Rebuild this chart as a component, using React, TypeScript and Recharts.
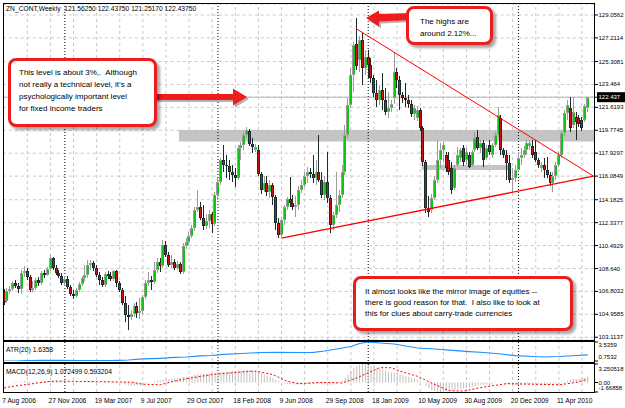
import React from 'react';
import { ComposedChart, Bar, Line, XAxis, YAxis, CartesianGrid, ReferenceLine, ReferenceArea } from 'recharts';

const FONT = '"Liberation Sans", Arial, sans-serif';

// ---------- data ----------
const dateTickIdx = [0, 16, 32, 48, 64, 80, 96, 112, 128, 144, 160, 176, 192];
const dateLabels = ['7 Aug 2006', '27 Nov 2006', '19 Mar 2007', '9 Jul 2007', '29 Oct 2007', '18 Feb 2008', '9 Jun 2008', '29 Sep 2008', '18 Jan 2009', '10 May 2009', '30 Aug 2009', '20 Dec 2009', '11 Apr 2010'];
const gridIdx = [8, 16, 24, 32, 40, 48, 56, 64, 72, 80, 88, 96, 104, 112, 120, 128, 136, 144, 152, 160, 168, 176, 184, 192, 200];
const yearSepIdx = [21, 74, 126, 178];

const priceTicks = [129.0562, 127.2114, 125.3081, 123.464, 121.6193, 119.7745, 117.9297, 116.0849, 114.1825, 112.3377, 110.4929, 108.64, 106.8032, 104.9585, 103.1137];
const priceTickLabels = ['129.0562', '127.2114', '125.3081', '123.464', '121.6193', '119.7745', '117.9297', '116.0849', '114.1825', '112.3377', '110.4929', '108.640', '106.8032', '104.9585', '103.1137'];
const lastPrice = 122.4375;
const lastPriceLabel = '122.437';

// weekly bars: [open, high, low, close]
const ohlc: number[][] = [
  [106.75, 106.99, 105.71, 105.95], [106.03, 107.07, 105.87, 106.83], [106.83, 107.24, 106.59, 106.99], [106.99, 107.64, 106.83, 107.48],
  [107.48, 107.72, 107.07, 107.24], [107.24, 107.48, 106.67, 106.99], [106.99, 108.52, 106.59, 108.28], [108.28, 108.85, 107.96, 108.44],
  [108.44, 108.68, 107.72, 107.96], [107.96, 108.12, 106.75, 106.91], [106.91, 107.64, 106.75, 107.07], [107.07, 107.88, 106.91, 107.72],
  [107.72, 107.96, 107.24, 107.48], [107.48, 108.44, 107.32, 108.28], [108.28, 108.52, 107.88, 108.12], [108.12, 108.76, 108.04, 108.60],
  [108.60, 109.73, 108.44, 109.49], [109.49, 109.57, 108.52, 108.68], [108.68, 108.93, 108.12, 108.28], [108.28, 108.52, 107.88, 108.04],
  [108.04, 108.28, 107.32, 107.48], [107.48, 108.04, 107.24, 107.80], [107.80, 108.04, 106.99, 107.15], [107.15, 107.32, 106.43, 106.59],
  [106.59, 106.91, 106.19, 106.43], [106.43, 107.07, 106.27, 106.91], [106.91, 107.56, 106.75, 107.40], [107.40, 108.04, 107.24, 107.88],
  [107.88, 108.93, 107.64, 108.12], [108.12, 109.33, 107.88, 108.93], [108.93, 109.33, 108.52, 109.09], [109.09, 109.25, 108.44, 108.68],
  [108.68, 108.93, 107.96, 108.12], [108.12, 108.36, 107.32, 107.72], [107.72, 107.96, 107.15, 107.32], [107.32, 108.36, 107.15, 108.20],
  [108.20, 108.44, 107.80, 108.04], [108.04, 108.36, 107.64, 107.80], [107.80, 108.52, 107.64, 108.44], [108.44, 108.52, 107.15, 107.48],
  [107.48, 107.64, 106.75, 106.91], [106.91, 107.07, 105.71, 105.87], [105.87, 106.43, 104.34, 104.90], [104.90, 105.71, 103.69, 104.74],
  [104.74, 105.30, 104.50, 104.98], [104.98, 105.87, 104.74, 105.62], [105.62, 105.95, 104.66, 105.06], [105.06, 106.27, 104.58, 105.22],
  [105.22, 106.51, 104.98, 106.35], [106.35, 107.72, 106.19, 107.48], [107.48, 108.36, 107.24, 107.72], [107.72, 108.04, 106.91, 107.56],
  [107.56, 109.17, 107.40, 108.52], [108.52, 109.49, 108.28, 109.17], [109.17, 109.49, 108.36, 108.85], [108.85, 110.94, 108.68, 110.54],
  [110.54, 110.86, 109.57, 109.73], [109.73, 109.97, 108.76, 108.93], [108.93, 109.73, 108.68, 109.17], [109.17, 109.41, 108.52, 108.68],
  [108.68, 109.25, 108.52, 109.01], [109.01, 109.17, 108.20, 108.36], [108.36, 110.70, 108.20, 110.45], [110.45, 111.10, 110.21, 110.78],
  [110.78, 111.58, 110.54, 111.26], [111.26, 112.15, 111.10, 111.91], [111.91, 113.60, 111.66, 113.35], [113.35, 114.96, 113.19, 113.60],
  [113.60, 114.00, 112.55, 112.71], [112.71, 113.76, 111.74, 112.07], [112.07, 113.03, 111.83, 112.47], [112.47, 113.35, 111.91, 113.03],
  [113.03, 113.19, 111.50, 112.23], [112.23, 114.80, 112.07, 114.56], [114.56, 115.93, 114.16, 115.61], [115.61, 117.54, 115.37, 117.38],
  [117.38, 118.59, 116.41, 116.98], [116.98, 117.78, 115.93, 116.90], [116.90, 117.38, 115.77, 116.41], [116.41, 116.98, 115.61, 116.17],
  [116.17, 116.74, 115.21, 115.93], [115.93, 118.59, 115.77, 118.35], [118.35, 118.83, 117.38, 118.59], [118.59, 119.64, 118.19, 119.39],
  [119.39, 120.04, 119.15, 119.80], [119.72, 119.88, 118.51, 118.67], [118.67, 119.15, 117.94, 118.43], [118.19, 118.67, 118.03, 118.43],
  [118.19, 118.59, 116.09, 116.25], [116.25, 116.41, 114.64, 114.96], [114.96, 116.09, 114.80, 115.53], [115.53, 116.09, 114.48, 114.80],
  [114.80, 115.77, 114.32, 115.37], [115.37, 115.53, 113.76, 114.40], [114.40, 114.56, 111.74, 112.31], [112.31, 112.71, 111.10, 111.34],
  [111.34, 112.79, 111.18, 112.55], [112.55, 113.76, 112.15, 113.60], [113.60, 114.40, 113.35, 114.24], [114.24, 116.01, 113.60, 113.92],
  [113.92, 114.56, 113.35, 113.60], [113.60, 114.48, 112.79, 113.76], [113.76, 115.29, 113.35, 114.96], [114.96, 115.77, 114.72, 115.37],
  [115.37, 116.41, 115.21, 116.09], [116.09, 116.82, 115.53, 116.41], [116.41, 116.74, 115.93, 116.25], [116.25, 117.78, 115.53, 115.93],
  [115.93, 117.38, 115.37, 116.41], [116.41, 119.39, 115.61, 115.77], [115.77, 116.41, 114.32, 114.56], [114.56, 116.09, 114.16, 115.61],
  [115.61, 118.03, 113.92, 114.32], [114.32, 114.56, 111.50, 112.15], [112.15, 113.19, 111.74, 112.95], [112.95, 116.41, 112.71, 113.76],
  [113.76, 114.96, 113.19, 114.56], [114.56, 116.98, 114.32, 116.41], [116.41, 120.20, 116.17, 119.39], [119.39, 122.37, 119.15, 121.81],
  [121.81, 124.79, 121.57, 124.22], [124.22, 126.88, 122.86, 126.64], [126.72, 128.81, 124.63, 124.95], [125.43, 127.37, 124.47, 127.04],
  [127.04, 127.61, 123.42, 124.79], [124.79, 126.24, 124.22, 125.67], [125.67, 126.24, 123.98, 125.03], [125.03, 125.59, 123.58, 123.98],
  [123.98, 124.22, 122.45, 122.78], [122.78, 123.82, 121.65, 122.21], [122.21, 123.42, 121.81, 123.02], [123.02, 124.39, 121.41, 122.21],
  [122.21, 123.18, 121.00, 121.25], [121.25, 122.86, 120.76, 121.57], [121.57, 122.21, 121.25, 121.89], [122.37, 126.08, 121.89, 124.47],
  [124.47, 124.79, 123.18, 123.82], [123.82, 124.14, 121.41, 122.61], [122.61, 122.86, 121.97, 122.37], [122.37, 123.58, 121.65, 122.21],
  [122.21, 122.61, 121.57, 121.89], [121.89, 122.21, 120.84, 121.08], [121.08, 121.81, 120.60, 121.57], [120.76, 121.73, 120.52, 121.41],
  [121.41, 121.57, 119.72, 119.96], [119.96, 120.12, 116.90, 117.22], [117.22, 117.38, 113.11, 113.51], [113.51, 114.48, 112.79, 113.19],
  [113.35, 114.64, 113.11, 114.32], [114.32, 116.09, 114.16, 115.77], [115.77, 118.99, 115.53, 117.38], [117.38, 118.75, 116.74, 118.19],
  [118.19, 118.83, 117.22, 118.59], [117.78, 118.03, 116.41, 116.74], [117.38, 118.03, 116.17, 116.41], [116.74, 117.22, 114.64, 114.96],
  [115.13, 116.98, 114.96, 116.74], [116.98, 118.43, 116.82, 117.78], [117.54, 118.35, 117.22, 118.19], [118.35, 118.59, 116.90, 117.22],
  [117.38, 118.35, 116.98, 118.03], [117.78, 118.03, 116.74, 116.82], [116.98, 118.19, 116.82, 118.03], [118.19, 119.64, 118.03, 119.15],
  [119.23, 119.80, 118.19, 118.35], [118.35, 118.99, 117.94, 118.75], [118.75, 118.99, 116.82, 117.38], [117.54, 118.59, 117.38, 118.35],
  [118.59, 118.99, 117.78, 118.03], [117.78, 118.75, 117.54, 118.59], [118.59, 119.64, 118.43, 119.39], [119.39, 121.65, 119.23, 121.00],
  [120.76, 121.00, 117.78, 118.19], [118.19, 118.35, 117.54, 117.78], [117.78, 118.19, 115.77, 117.14], [117.14, 117.78, 115.53, 115.77],
  [115.77, 116.74, 114.80, 115.93], [115.93, 116.98, 115.61, 116.58], [116.58, 118.03, 116.41, 117.54], [117.54, 118.35, 116.98, 117.78],
  [117.78, 118.51, 117.54, 118.19], [118.19, 118.99, 117.78, 118.75], [118.51, 118.99, 118.19, 118.75], [118.51, 118.99, 117.54, 117.78],
  [118.03, 118.99, 117.22, 117.38], [117.38, 117.54, 116.74, 116.98], [116.74, 117.22, 116.41, 116.98], [116.98, 117.54, 115.93, 116.58],
  [116.58, 117.62, 115.93, 116.17], [116.17, 116.41, 115.29, 115.53], [115.53, 116.41, 114.80, 116.09], [116.09, 117.22, 115.77, 116.98],
  [116.98, 118.03, 116.82, 117.78], [117.78, 119.80, 117.54, 119.55], [119.55, 121.41, 119.31, 121.17], [121.17, 122.21, 120.60, 121.81],
  [121.57, 122.45, 119.64, 119.96], [120.20, 122.45, 119.96, 121.25], [120.84, 121.25, 118.99, 120.44], [120.76, 121.00, 120.04, 120.28],
  [120.60, 120.84, 119.72, 119.96], [120.60, 121.89, 120.44, 121.73], [121.5625, 122.4375, 121.2517, 122.4375],
];

// MACD(12,26,9) main line, drawn as histogram
const macdHist = [
  0.05, 0.1, 0.0, 0.1, 0.15, 0.1, 0.2, 0.25, 0.25, 0.2,
  0.15, 0.2, 0.15, 0.2, 0.2, 0.25, 0.35, 0.3, 0.3, 0.25,
  0.2, 0.15, 0.05, -0.05, -0.15, -0.15, -0.1, 0.0, 0.05, 0.15,
  0.2, 0.2, 0.15, 0.1, 0.05, 0.1, 0.1, 0.1, 0.15, 0.1,
  0.0, -0.15, -0.35, -0.5, -0.6, -0.6, -0.55, -0.5, -0.35, -0.15,
  -0.05, 0.05, 0.2, 0.35, 0.4, 0.55, 0.6, 0.6, 0.65, 0.7,
  0.75, 0.8, 0.95, 1.05, 1.1, 1.2, 1.35, 1.45, 1.45, 1.5,
  1.5, 1.55, 1.6, 1.7, 1.8, 1.85, 1.9, 1.95, 1.95, 2.0,
  2.0, 2.05, 2.15, 2.2, 2.25, 2.2, 2.1, 2.0, 1.85, 1.65,
  1.45, 1.25, 1.05, 0.8, 0.5, 0.25, 0.0, -0.15, -0.25, -0.3,
  -0.35, -0.4, -0.4, -0.35, -0.35, -0.3, -0.3, -0.25, -0.25, -0.3,
  -0.3, -0.35, -0.35, -0.4, -0.3, -0.2, 0.0, 0.3, 0.8, 1.4,
  2.0, 2.5, 2.9, 3.15, 3.25, 3.2, 3.05, 2.9, 2.75, 2.6,
  2.4, 2.25, 2.1, 1.9, 1.75, 1.7, 1.6, 1.45, 1.3, 1.15,
  1.0, 0.85, 0.7, 0.5, 0.25, -0.1, -0.6, -1.0, -1.3, -1.5,
  -1.6, -1.65, -1.6, -1.55, -1.45, -1.4, -1.35, -1.25, -1.15, -1.05,
  -0.95, -0.85, -0.7, -0.6, -0.5, -0.45, -0.4, -0.35, -0.3, -0.2,
  -0.1, 0.0, -0.05, -0.1, -0.2, -0.3, -0.4, -0.45, -0.45, -0.4,
  -0.35, -0.3, -0.25, -0.25, -0.25, -0.3, -0.35, -0.4, -0.4, -0.45,
  -0.45, -0.4, -0.3, -0.1, 0.15, 0.35, 0.5, 0.6, 0.65, 0.7,
  0.8, 0.9, 1.072499,
];

// MACD signal line (read at these bars)
const signalIdx = [0, 4, 16, 19, 33, 44, 48, 54, 61, 72, 82, 87, 93, 98, 102, 109, 114, 117, 122, 126, 130, 134, 137, 143, 148, 154, 159, 166, 174, 183, 192, 198, 202];
const signalVals = [-0.95, -0.6, 0.2, 0.24, 0.15, 0.05, -0.3, -0.4, 0.5, 1.4, 1.85, 2.0, 1.4, 0.2, -0.2, 0.0, 0.0, -0.1, 0.8, 1.7, 2.6, 2.6, 2.0, 1.1, -0.1, -1.45, -1.5, -0.8, -0.2, -0.3, -0.4, 0.0, 0.593204];

// ATR(20) (read at these bars)
const atrIdx = [0, 5, 13, 19, 26, 37, 43, 48, 54, 59, 63, 68, 72, 76, 82, 89, 95, 102, 107, 111, 116, 120, 123, 126, 130, 135, 139, 143, 149, 154, 161, 166, 172, 177, 183, 187, 192, 198, 202];
const atrVals = [0.7532, 0.76, 0.86, 0.85, 0.8, 0.8, 0.9, 1.05, 1.15, 1.27, 1.34, 1.49, 1.56, 1.71, 1.85, 2.0, 2.03, 2.0, 2.03, 2.22, 2.58, 2.88, 3.32, 3.5359, 3.39, 3.24, 2.95, 2.66, 2.51, 2.36, 2.14, 2.0, 1.78, 1.53, 1.41, 1.34, 1.41, 1.56, 1.6358];

const atrTicks = [3.5359, 0.7532];
const atrTickLabels = ['3.5359', '0.7532'];
const macdTicks = [3.250518, 0, -1.66858];
const macdTickLabels = ['3.250518', '0.00', '-1.66858'];

// drawn objects
const upperTrend = [{ x: 122, y: 127.93 }, { x: 204, y: 116.08 }];
const lowerTrend = [{ x: 96, y: 111.1 }, { x: 204, y: 116.08 }];
const zone1 = { x1: 61, x2: 204, y1: 118.87, y2: 119.8 };
const zone2 = { x1: 145, x2: 175, y1: 116.58, y2: 116.98 };

const SLOTS = 205;
const rows: any[] = Array.from({ length: SLOTS }, (_, i) => {
  const b = ohlc[i];
  return {
    i,
    o: b ? b[0] : null,
    h: b ? b[1] : null,
    l: b ? b[2] : null,
    c: b ? b[3] : null,
    range: b ? [b[2], b[1]] : null,
    macd: i < macdHist.length ? macdHist[i] : null,
    sig: null,
    atr: null,
  };
});
signalIdx.forEach((k, j) => { rows[k].sig = signalVals[j]; });
atrIdx.forEach((k, j) => { rows[k].atr = atrVals[j]; });

// ---------- rendering helpers ----------
const Candle = (props: any) => {
  const { x, y, width, height, payload } = props;
  if (!payload || payload.o == null || x == null) return <g />;
  const { o, h, l, c } = payload;
  const top = Math.min(y, y + height);
  const bot = Math.max(y, y + height);
  const span = h - l;
  const py = (v: number) => (span === 0 ? top : top + ((h - v) / span) * (bot - top));
  const bull = c >= o;
  const cx = Math.round(x + width / 2 - 0.5);
  const yo = py(o);
  const yc = py(c);
  const bTop = Math.round(Math.min(yo, yc));
  const bBot = Math.round(Math.max(yo, yc));
  const outline = bull ? '#9c9c9c' : '#1c2a2a';
  const fill = bull ? '#12c412' : '#c81414';
  const bh = Math.max(1, bBot - bTop);
  return (
    <g>
      <rect x={cx} y={Math.round(top)} width={1} height={Math.max(1, Math.round(bot) - Math.round(top))} fill={outline} />
      <rect x={cx - 1} y={bTop} width={3} height={bh} fill={outline} />
      {bh > 2 && <rect x={cx} y={bTop + 1} width={bull ? 2 : 1} height={bh - 2} fill={fill} />}
    </g>
  );
};

// right-axis labels: small enough to end inside the window edge
const AXIS_FONT = 6;

const PriceTick = (props: any) => {
  const { x, y, payload } = props;
  const v = payload.value;
  if (v === lastPrice) {
    return (
      <g>
        <rect x={x - 3} y={y - 5} width={40} height={10} fill="#000" />
        <text x={x - 1.5} y={y} dominantBaseline="central" fontSize={AXIS_FONT} fontFamily={FONT} fill="#fff">{lastPriceLabel}</text>
      </g>
    );
  }
  const idx = priceTicks.indexOf(v);
  return (
    <text x={x - 1.5} y={y} dominantBaseline="central" fontSize={AXIS_FONT} fontFamily={FONT} fill="#000">{priceTickLabels[idx]}</text>
  );
};

const makeSubTick = (ticks: number[], labels: string[], topShift: number, botShift: number) => (props: any) => {
  const { x, y, payload } = props;
  const idx = ticks.indexOf(payload.value);
  const isMax = payload.value === Math.max(...ticks);
  const isMin = payload.value === Math.min(...ticks);
  const dy = isMax ? topShift : isMin ? botShift : 0;
  return (
    <text x={x - 1.5} y={y + dy} dominantBaseline="central" fontSize={AXIS_FONT} fontFamily={FONT} fill="#000">{labels[idx]}</text>
  );
};
const AtrTick = makeSubTick(atrTicks, atrTickLabels, 3, -3.7);
const MacdTick = makeSubTick(macdTicks, macdTickLabels, 4.5, -3.7);

const DateTick = (props: any) => {
  const { x, y, payload } = props;
  const idx = dateTickIdx.indexOf(payload.value);
  return (
    <text x={x - 2} y={y + 8} dominantBaseline="central" fontSize={6.7} fontFamily={FONT} fill="#000">{dateLabels[idx]}</text>
  );
};

const vGrid = (prefix: string) => [
  ...gridIdx.map((k) => (
    <ReferenceLine key={prefix + 'g' + k} x={k} stroke="#c8c8c8" strokeDasharray="3 3" zIndex={-90} />
  )),
  ...yearSepIdx.map((k) => (
    <ReferenceLine key={prefix + 's' + k} x={k} stroke="#000" strokeDasharray="1 2" zIndex={-60} />
  )),
];

const MARGIN_LEFT = 2.75;
const AXIS_W = 30;

const frame = (top: number, height: number): React.CSSProperties => ({
  position: 'absolute', left: 3, top, width: 592, height, border: '1px solid #000', boxSizing: 'border-box', pointerEvents: 'none',
});

const boxBase: React.CSSProperties = {
  position: 'absolute', boxSizing: 'border-box', border: '3px solid #ee1c1c', borderRadius: 8, background: '#fff',
  boxShadow: '3px 3px 3px rgba(0,0,0,0.35)', fontFamily: FONT, fontSize: 8, color: '#000', whiteSpace: 'pre',
};

const mtText: React.CSSProperties = {
  position: 'absolute', fontFamily: FONT, fontSize: 6.7, color: '#000', whiteSpace: 'pre', lineHeight: '8px',
};

export default function App() {
  return (
    <div style={{ position: 'fixed', left: 0, top: 0, width: 625, height: 408, background: '#fff', overflow: 'hidden' }}>
      {/* main price window */}
      <div style={{ position: 'absolute', left: 0, top: 0 }}>
        <ComposedChart width={625} height={344} data={rows} margin={{ top: 4, right: 0, bottom: 4, left: MARGIN_LEFT }}>
          <XAxis dataKey="i" hide scale="band" />
          <YAxis orientation="right" width={AXIS_W} domain={[102.89, 129.94]} type="number" ticks={[...priceTicks, lastPrice]} interval={0}
            allowDataOverflow tick={<PriceTick />} tickSize={3} tickMargin={2} axisLine={false} tickLine={{ stroke: '#000' }} />
          <CartesianGrid vertical={false} stroke="#c8c8c8" strokeDasharray="3 3" />
          {vGrid('m')}
          <ReferenceArea x1={zone1.x1} x2={zone1.x2} y1={zone1.y1} y2={zone1.y2} fill="#c4c4c4" fillOpacity={1} stroke="none" zIndex={-80} />
          <ReferenceArea x1={zone2.x1} x2={zone2.x2} y1={zone2.y1} y2={zone2.y2} fill="#c4c4c4" fillOpacity={1} stroke="none" zIndex={-80} />
          <ReferenceLine y={lastPrice} stroke="#b4b4b4" zIndex={-70} />
          <Bar dataKey="range" shape={(p: any) => <Candle {...p} />} barSize={3} isAnimationActive={false} />
          <ReferenceLine segment={upperTrend} stroke="#ff0000" strokeWidth={1} zIndex={600} />
          <ReferenceLine segment={lowerTrend} stroke="#ff0000" strokeWidth={1.3} zIndex={600} />
        </ComposedChart>
      </div>

      {/* ATR window */}
      <div style={{ position: 'absolute', left: 0, top: 341 }}>
        <ComposedChart width={625} height={22} data={rows} margin={{ top: 1, right: 0, bottom: 2, left: MARGIN_LEFT }}>
          <XAxis dataKey="i" hide scale="band" />
          <YAxis orientation="right" width={AXIS_W} domain={[0.7532, 3.5359]} type="number" ticks={atrTicks} interval={0}
            allowDataOverflow tick={<AtrTick />} tickSize={3} tickMargin={2} axisLine={false} tickLine={{ stroke: '#000' }} />
          {vGrid('a')}
          <Line dataKey="atr" stroke="#1e90ff" strokeWidth={1.2} dot={false} connectNulls isAnimationActive={false} />
        </ComposedChart>
      </div>

      {/* MACD window */}
      <div style={{ position: 'absolute', left: 0, top: 363 }}>
        <ComposedChart width={625} height={45} data={rows} margin={{ top: 1, right: 0, bottom: 0, left: MARGIN_LEFT }}>
          <XAxis dataKey="i" scale="band" ticks={dateTickIdx} interval={0} tick={<DateTick />} tickLine={false} axisLine={false} height={16} tickSize={0} tickMargin={0} />
          <YAxis orientation="right" width={AXIS_W} domain={[-1.66858, 3.250518]} type="number" ticks={macdTicks} interval={0}
            allowDataOverflow tick={<MacdTick />} tickSize={3} tickMargin={2} axisLine={false} tickLine={{ stroke: '#000' }} />
          {vGrid('d')}
          <Bar dataKey="macd" fill="#c0c0c0" barSize={1} isAnimationActive={false} />
          <Line dataKey="sig" stroke="#ff0000" strokeWidth={1} strokeDasharray="2 2" dot={false} connectNulls isAnimationActive={false} />
        </ComposedChart>
      </div>

      {/* window frames */}
      <div style={frame(3, 338)} />
      <div style={frame(341, 22)} />
      <div style={frame(363, 30)} />

      {/* window labels */}
      <div style={{ ...mtText, left: 6, top: 5 }}>{'ZN_CONT,Weekly  121.56250 122.43750 121.25170 122.43750'}</div>
      <div style={{ ...mtText, left: 6, top: 346 }}>{'ATR(20) 1.6358'}</div>
      <div style={{ ...mtText, left: 6, top: 368 }}>{'MACD(12,26,9) 1.072499 0.593204'}</div>

      {/* callout arrows */}
      <svg width={625} height={408} style={{ position: 'absolute', left: 0, top: 0, pointerEvents: 'none' }}>
        <polygon points="152,96 235,96 235,90.5 249,99 235,107.5 235,102 152,102" fill="rgba(0,0,0,0.3)" />
        <polygon points="150,94 233,94 233,88.5 247,97 233,105.5 233,100 150,100" fill="#ee1c1c" />
        <polygon points="368,20 381,12.5 381,16 414,15 414,22 381,23.5 381,28.5" fill="rgba(0,0,0,0.3)" />
        <polygon points="366,18 379,10.5 379,14 412,13 412,20 379,21.5 379,26.5" fill="#ee1c1c" />
      </svg>

      {/* callout boxes */}
      <div style={{ ...boxBase, left: 8, top: 58, width: 149, height: 69, padding: '6px 0 0 8px', lineHeight: '12px' }}>
        {'This level is about 3%,.  Although\nnot really a technical level, it\u2019s a\npsychologically important level\nfor fixed income traders'}
      </div>
      <div style={{ ...boxBase, left: 406, top: 6, width: 87, height: 39, padding: '7px 0 0 11px', lineHeight: '12px' }}>
        {'The highs are\naround 2.12%...'}
      </div>
      <div style={{ ...boxBase, left: 353, top: 276, width: 220, height: 55, padding: '7px 0 0 9px', lineHeight: '11px' }}>
        {'It almost looks like the mirror image of equities --\nthere is good reason for that.  I also like to look at\nthis for clues about carry-trade currencies'}
      </div>
    </div>
  );
}
